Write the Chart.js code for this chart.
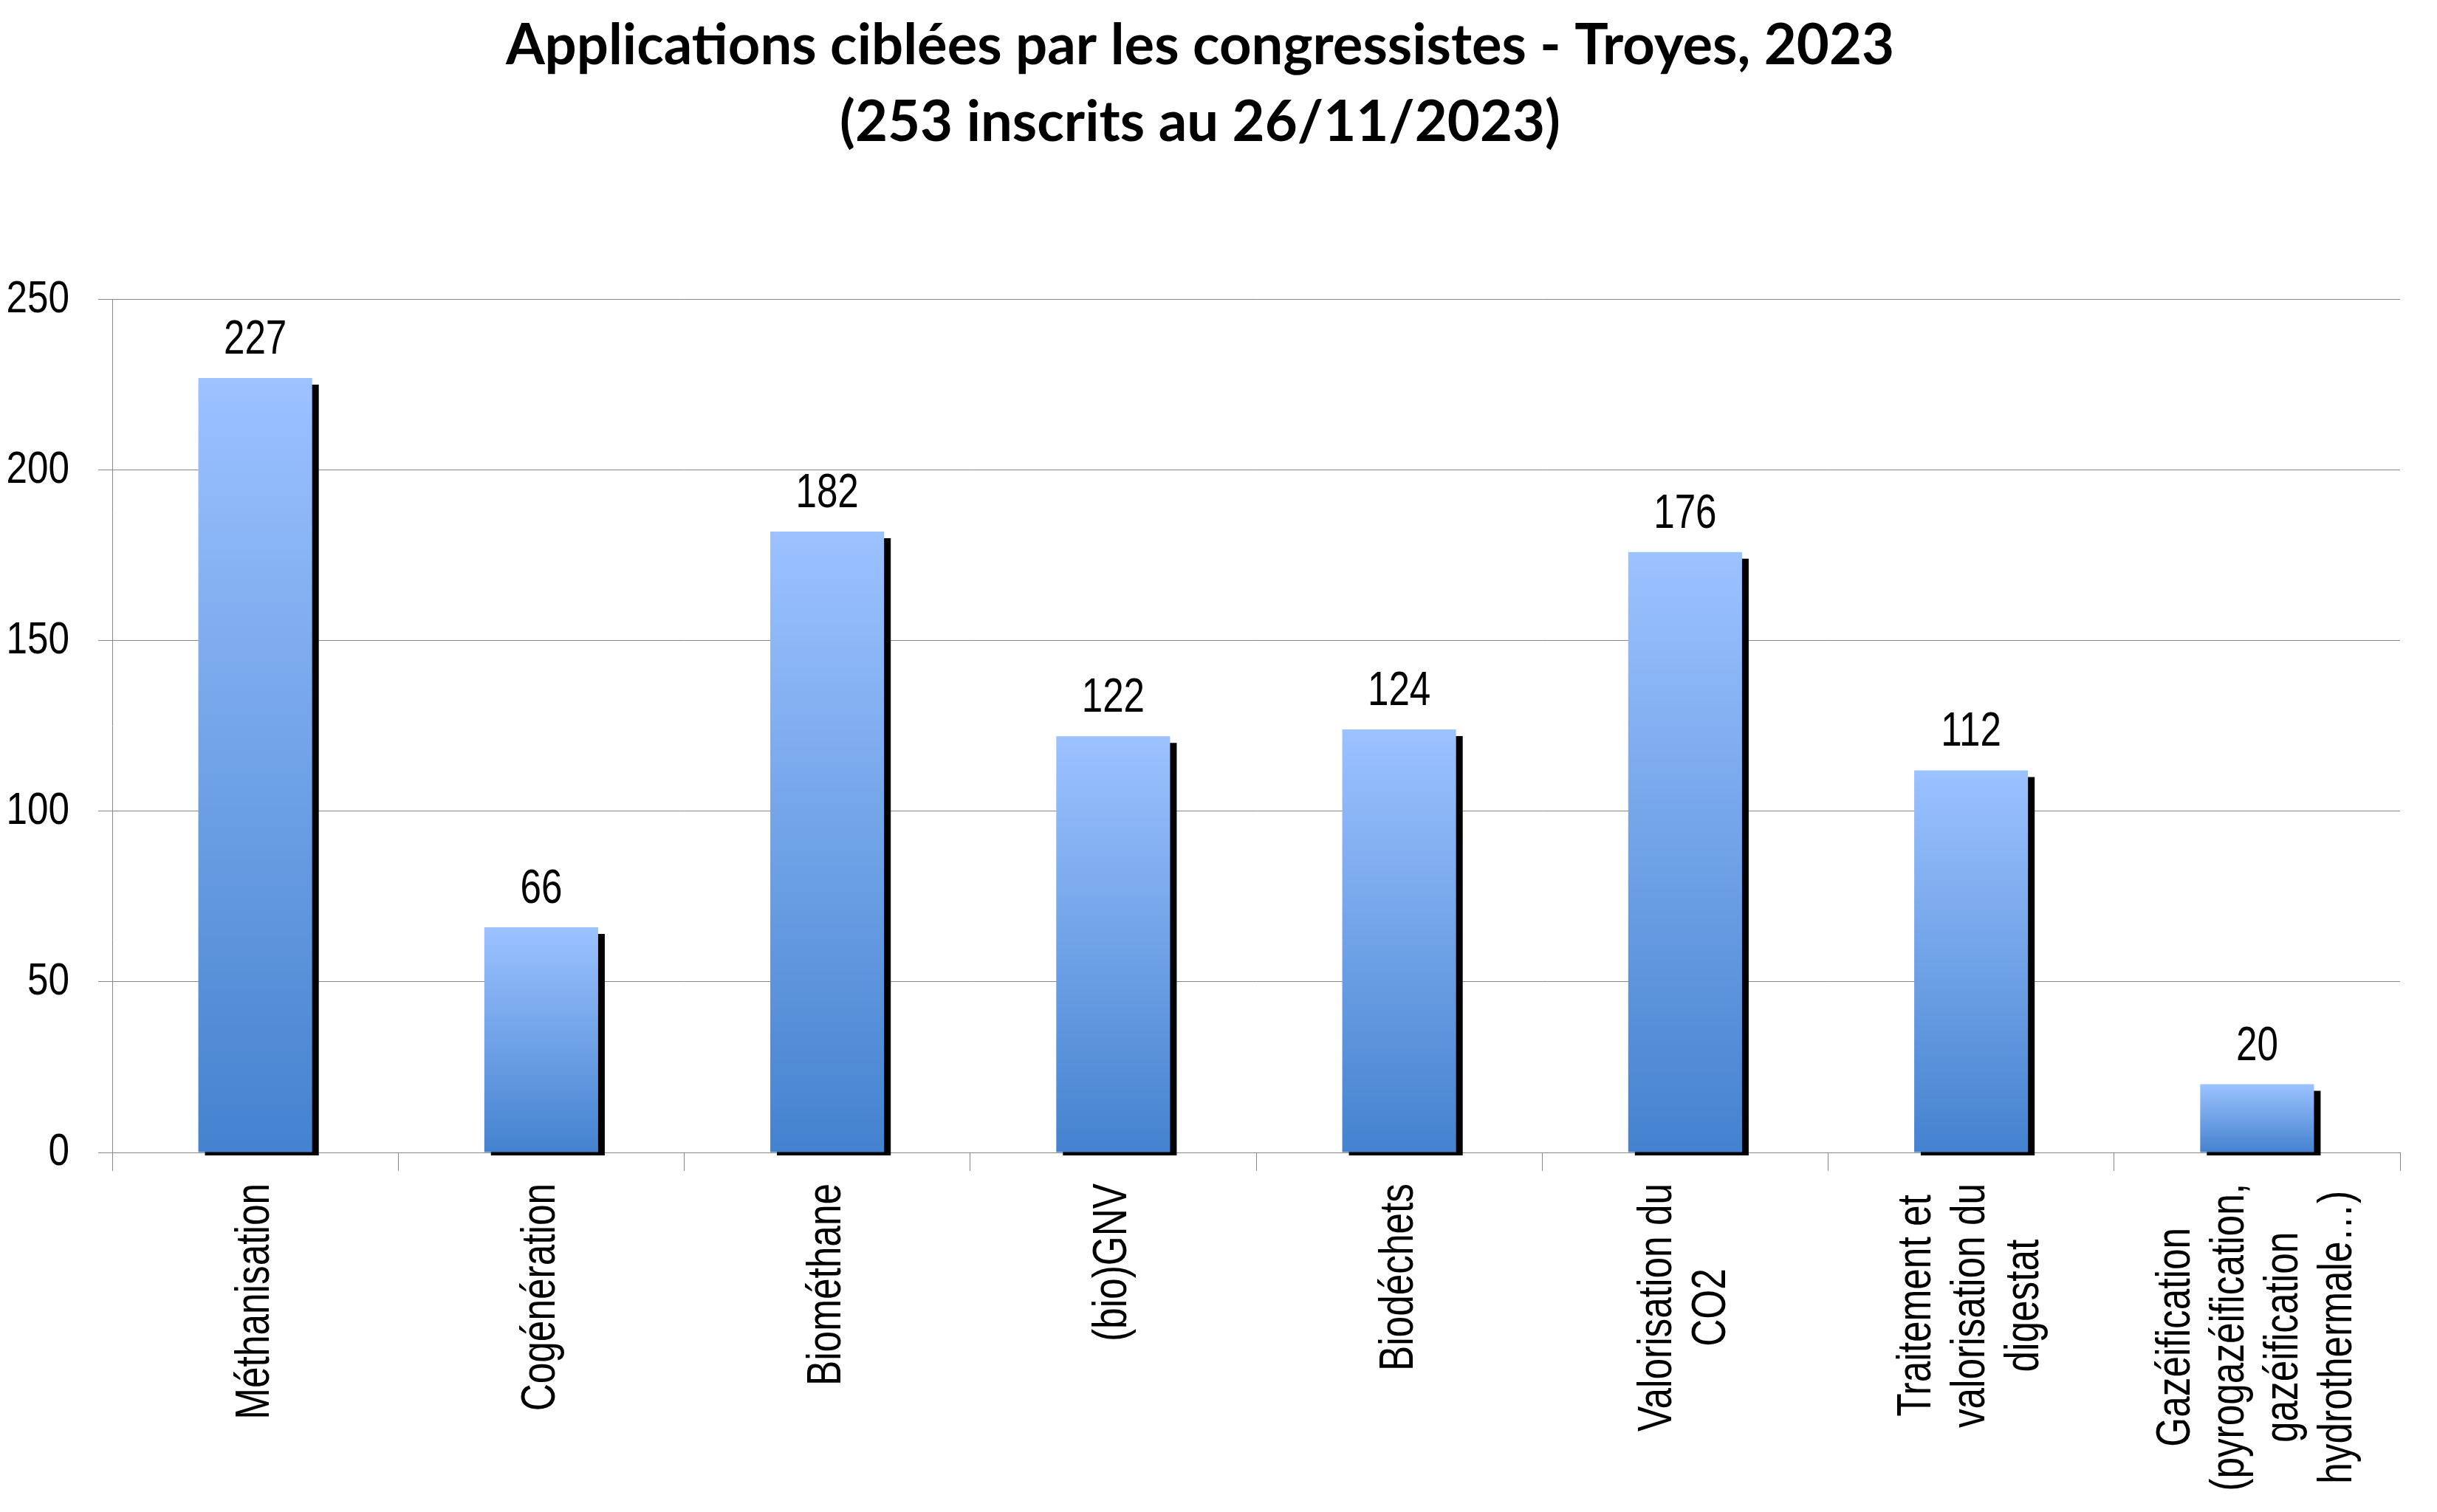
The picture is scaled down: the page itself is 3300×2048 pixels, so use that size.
<!DOCTYPE html>
<html>
<head>
<meta charset="utf-8">
<script src="https://cdn.jsdelivr.net/npm/chart.js@4.4.1/dist/chart.umd.min.js"></script>
<style>
  html,body{margin:0;padding:0;background:#fff;}
  #wrap{width:3300px;height:2048px;position:relative;}
</style>
</head>
<body>
<div id="wrap"><canvas id="chart"></canvas></div>
<script>
/* ===== Data ===== */
const titleLines = ['Applications ciblées par les congressistes - Troyes, 2023', '(253 inscrits au 26/11/2023)'];
const categories = [
  'Méthanisation',
  'Cogénération',
  'Biométhane',
  '(bio)GNV',
  'Biodéchets',
  ['Valorisation du', 'CO2'],
  ['Traitement et', 'valorisation du', 'digestat'],
  ['Gazéification', '(pyrogazéification,', 'gazéification', 'hydrothermale…)']
];
const values = [227, 66, 182, 122, 124, 176, 112, 20];
const yTicks = [0, 50, 100, 150, 200, 250];

/* ===== Fonts =====
   The original uses a narrow sans; Liberation Sans squeezed horizontally stands in for it. */
const axisFont = '"Liberation Sans", Arial, sans-serif';
const squeeze = 0.8;

// draw text squeezed horizontally around its anchor
function narrowText(ctx, txt, x, y, sx){
  ctx.save();
  ctx.translate(x, y);
  ctx.scale(sx, 1);
  ctx.fillText(txt, 0, 0);
  ctx.restore();
}

/* ===== Plugins ===== */
const barShadow = {
  id:'barShadow',
  beforeDatasetDraw(chart){
    const ctx = chart.ctx;
    ctx.save();
    ctx.shadowColor = '#000';
    ctx.shadowOffsetX = 9;
    ctx.shadowOffsetY = 9;
    ctx.shadowBlur = 0;
  },
  afterDatasetDraw(chart){ chart.ctx.restore(); }
};

const valueLabels = {
  id:'valueLabels',
  afterDatasetsDraw(chart){
    const ctx = chart.ctx;
    ctx.save();
    ctx.font = `64px ${axisFont}`;
    ctx.fillStyle = '#000';
    ctx.textAlign = 'center';
    ctx.textBaseline = 'alphabetic';
    chart.getDatasetMeta(0).data.forEach((bar,i)=>{
      narrowText(ctx, String(values[i]), bar.x, bar.y - 33, squeeze);
    });
    ctx.restore();
  }
};

const yLabels = {
  id:'yLabels',
  afterDraw(chart){
    const ctx = chart.ctx, y = chart.scales.y;
    ctx.save();
    ctx.font = `61px ${axisFont}`;
    ctx.fillStyle = '#000';
    ctx.textAlign = 'right';
    ctx.textBaseline = 'middle';
    yTicks.forEach(v=>{
      narrowText(ctx, String(v), y.right - 19 - 39, y.getPixelForValue(v), 0.84);
    });
    ctx.restore();
  }
};

// category labels: rotated, lines centred in their block, block ending near the axis
const catLabels = {
  id:'catLabels',
  afterDraw(chart){
    const ctx = chart.ctx, x = chart.scales.x;
    const lh = 73;
    ctx.save();
    ctx.font = `65px ${axisFont}`;
    ctx.fillStyle = '#000';
    ctx.textAlign = 'center';
    ctx.textBaseline = 'middle';
    categories.forEach((lab,i)=>{
      const lines = Array.isArray(lab) ? lab : [lab];
      const w = Math.max(...lines.map(l=>ctx.measureText(l).width)) * 0.79;
      ctx.save();
      ctx.translate(x.getPixelForValue(i), x.top + 42);
      ctx.rotate(-Math.PI/2);
      lines.forEach((l,k)=>{
        narrowText(ctx, l, -w/2, (k - (lines.length-1)/2) * lh, 0.79);
      });
      ctx.restore();
    });
    ctx.restore();
  }
};

/* ===== Chart ===== */
const gridColor = '#888888';

new Chart(document.getElementById('chart'), {
  type:'bar',
  data:{
    labels: categories,
    datasets:[{
      data: values,
      backgroundColor: c=>{
        const chart = c.chart;
        if(!chart.chartArea || !chart.scales.y) return '#7aa8ec';
        const y = chart.scales.y;
        const top = y.getPixelForValue(values[c.dataIndex]);
        const bottom = y.getPixelForValue(0);
        const g = chart.ctx.createLinearGradient(0, top, 0, bottom);
        g.addColorStop(0, '#9cc2ff');
        g.addColorStop(1, '#4482cf');
        return g;
      },
      borderWidth:0,
      categoryPercentage:1,
      barPercentage:0.398,
      clip:{left:false, top:false, right:false, bottom:4}
    }]
  },
  options:{
    responsive:true,
    maintainAspectRatio:false,
    animation:false,
    layout:{ padding:{ left:0, right:50, top:0, bottom:0 } },
    plugins:{
      legend:{ display:false },
      tooltip:{ enabled:false },
      title:{
        display:true,
        text: titleLines,
        color:'#000',
        font:{ family:'Lato', weight:'bold', size:76, lineHeight:1.36 },
        padding:{ top:11, bottom:188 }
      }
    },
    scales:{
      x:{
        z:1,
        offset:true,
        grid:{ display:true, offset:true, drawOnChartArea:false, drawTicks:true, tickLength:25, color:gridColor, lineWidth:1 },
        border:{ display:true, color:gridColor, width:1 },
        ticks:{ display:false },
        afterFit(s){ s.height = 487; }
      },
      y:{
        min:0, max:250,
        afterBuildTicks(s){ s.ticks = yTicks.map(v=>({value:v})); },
        grid:{ color:gridColor, lineWidth:1, tickLength:19, drawTicks:true },
        border:{ display:true, color:gridColor, width:1 },
        ticks:{ display:false },
        afterFit(s){ s.width = 152; }
      }
    }
  },
  plugins:[barShadow, valueLabels, yLabels, catLabels]
});
</script>
</body>
</html>
